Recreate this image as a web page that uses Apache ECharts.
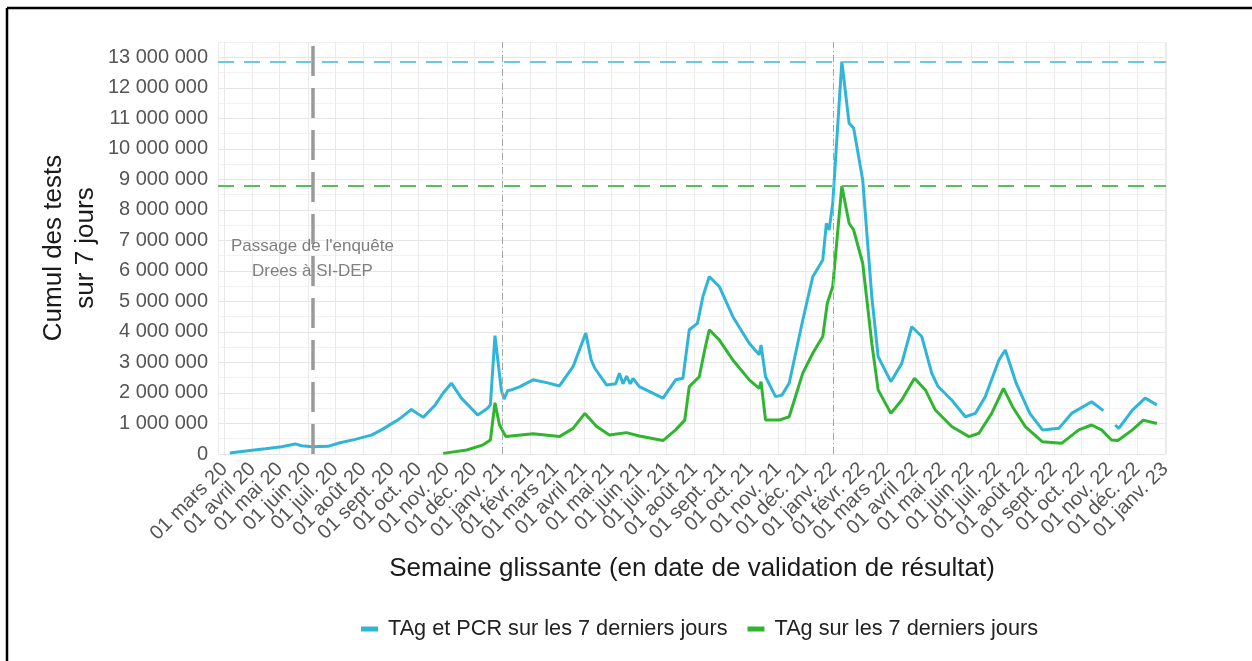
<!DOCTYPE html>
<html>
<head>
<meta charset="utf-8">
<script src="https://cdn.jsdelivr.net/npm/echarts@6/dist/echarts.min.js"></script>
<style>
html,body{margin:0;padding:0;background:#fff;}
#chart{width:1252px;height:661px;}
</style>
</head>
<body>
<div id="chart"></div>
<script>
// ---- Data ----
const allDates = ['2020-03-07','2020-03-27','2020-04-15','2020-05-03','2020-05-18','2020-05-25','2020-06-06','2020-06-23','2020-07-04','2020-07-23','2020-08-10','2020-08-21','2020-09-05','2020-09-12','2020-09-23','2020-10-06','2020-10-19','2020-10-28','2020-11-06','2020-11-17','2020-12-05','2020-12-16','2020-12-19','2020-12-24','2020-12-31','2021-01-03','2021-01-05','2021-01-07','2021-01-11','2021-01-20','2021-02-04','2021-02-20','2021-03-05','2021-03-20','2021-04-03','2021-04-09','2021-04-13','2021-04-26','2021-05-06','2021-05-10','2021-05-14','2021-05-18','2021-05-22','2021-05-25','2021-06-01','2021-06-27','2021-07-11','2021-07-19','2021-07-26','2021-08-04','2021-08-10','2021-08-17','2021-08-28','2021-09-12','2021-09-30','2021-10-11','2021-10-13','2021-10-18','2021-10-29','2021-11-05','2021-11-13','2021-11-28','2021-12-09','2021-12-20','2021-12-24','2021-12-27','2021-12-31','2022-01-10','2022-01-18','2022-01-23','2022-02-02','2022-02-12','2022-02-19','2022-03-05','2022-03-17','2022-03-28','2022-04-08','2022-04-19','2022-04-26','2022-05-11','2022-05-26','2022-06-06','2022-06-17','2022-07-02','2022-07-09','2022-07-21','2022-08-05','2022-08-19','2022-09-06','2022-09-20','2022-10-12','2022-10-25','2022-10-31','2022-11-07','2022-11-11','2022-11-26','2022-12-10','2022-12-23'];
const allValues = [30000,110000,170000,240000,330000,270000,240000,250000,350000,480000,620000,790000,1060000,1200000,1460000,1200000,1600000,2000000,2320000,1830000,1280000,1500000,1620000,3880000,2100000,1800000,1770000,2080000,2100000,2200000,2430000,2330000,2230000,2860000,3960000,3080000,2810000,2260000,2300000,2650000,2300000,2550000,2300000,2480000,2210000,1830000,2430000,2480000,4070000,4280000,5160000,5810000,5490000,4500000,3630000,3250000,3570000,2530000,1880000,1930000,2320000,4390000,5810000,6360000,7560000,7340000,8220000,12860000,10840000,10680000,8980000,5160000,3190000,2370000,2970000,4170000,3850000,2650000,2210000,1770000,1220000,1330000,1880000,3080000,3410000,2320000,1330000,790000,840000,1330000,1710000,1420000,null,950000,840000,1440000,1830000,1610000];

const tagDates = ['2020-10-28','2020-11-23','2020-12-11','2020-12-19','2020-12-24','2020-12-29','2021-01-05','2021-02-04','2021-03-05','2021-03-20','2021-04-02','2021-04-15','2021-04-29','2021-05-18','2021-06-01','2021-06-27','2021-07-11','2021-07-21','2021-07-26','2021-08-06','2021-08-12','2021-08-17','2021-08-28','2021-09-12','2021-09-30','2021-10-11','2021-10-13','2021-10-18','2021-11-02','2021-11-13','2021-11-28','2021-12-09','2021-12-20','2021-12-25','2021-12-31','2022-01-10','2022-01-18','2022-01-23','2022-02-02','2022-02-12','2022-02-19','2022-03-05','2022-03-17','2022-03-31','2022-04-12','2022-04-23','2022-05-11','2022-05-30','2022-06-10','2022-06-24','2022-07-07','2022-07-17','2022-07-31','2022-08-19','2022-09-09','2022-09-28','2022-10-12','2022-10-23','2022-11-03','2022-11-10','2022-11-26','2022-12-08','2022-12-23'];
const tagValues = [20000,130000,300000,460000,1680000,950000,570000,660000,570000,840000,1330000,900000,620000,700000,590000,440000,790000,1110000,2210000,2530000,3410000,4070000,3740000,3080000,2430000,2150000,2370000,1110000,1110000,1220000,2650000,3300000,3850000,4940000,5490000,8780000,7560000,7340000,6250000,3630000,2100000,1330000,1770000,2480000,2100000,1440000,900000,570000,680000,1330000,2150000,1550000,900000,400000,350000,790000,950000,790000,460000,440000,790000,1110000,1000000];

const seriesNames = ['TAg et PCR sur les 7 derniers jours', 'TAg sur les 7 derniers jours'];
const monthLabels = ['janv.','févr.','mars','avril','mai','juin','juil.','août','sept.','oct.','nov.','déc.'];
const xMin = '2020-02-23';
const xMax = '2023-01-02';
const yMax = 13500000;
const yStep = 500000;
const annotationDate = '2020-06-06';
const annotationY = 6400000;
const annotationText = "Passage de l'enquête\nDrees à SI-DEP";
const yearLines = ['2021-01-01', '2022-01-01'];
const xTitle = 'Semaine glissante (en date de validation de résultat)';
const yTitle = 'Cumul des tests\nsur 7 jours';

// ---- Chart ----
const FONT = 'Liberation Sans, Arial, Helvetica, sans-serif';
const CYAN = '#2fb5d8';
const GREEN = '#2fb52f';

function fmtNum(v){
  return String(v).replace(/\B(?=(\d{3})+(?!\d))/g, ' ');
}

const chart = echarts.init(document.getElementById('chart'), null, {renderer:'canvas'});
const option = {
  backgroundColor: '#ffffff',
  animation: false,
  textStyle: {fontFamily: FONT},
  grid: {left: 218, right: 86, top: 42, bottom: 207, containLabel: false},
  legend: {
    data: seriesNames,
    left: 356, top: 613,
    icon: 'rect', itemWidth: 17, itemHeight: 5, itemGap: 20,
    textStyle: {fontSize: 21.7, color: '#222', fontFamily: FONT, padding: [0,0,0,5]}
  },
  xAxis: {
    type: 'time',
    min: xMin, max: xMax,
    minInterval: 28 * 86400000,
    maxInterval: 31 * 86400000,
    splitNumber: 35,
    axisLine: {show: false},
    axisTick: {show: false},
    splitLine: {show: true, lineStyle: {color: '#ebebeb', width: 1}},
    axisLabel: {
      rotate: 45, interval: 0, margin: 12,
      color: '#555', fontSize: 20, fontFamily: FONT,
      showMinLabel: true, showMaxLabel: true, hideOverlap: false,
      formatter: function(value){
        const d = new Date(value);
        if (d.getDate() !== 1) return '';
        return '01 ' + monthLabels[d.getMonth()] + ' ' + String(d.getFullYear()).slice(2);
      }
    },
    name: xTitle, nameLocation: 'middle', nameGap: 102, nameMoveOverlap: false,
    nameTextStyle: {fontSize: 26, color: '#1a1a1a', fontFamily: FONT}
  },
  yAxis: {
    type: 'value', min: 0, max: yMax, interval: yStep,
    axisLine: {show: false}, axisTick: {show: false},
    splitLine: {show: true, lineStyle: {color: ['#e6e6e6', '#f1f1f1'], width: 1}},
    axisLabel: {
      color: '#555', fontSize: 20, margin: 10, fontFamily: FONT,
      formatter: function(v){ return v % 1000000 === 0 ? fmtNum(v) : ''; }
    },
    name: yTitle, nameLocation: 'middle', nameGap: 116, nameRotate: 90, nameMoveOverlap: false,
    nameTextStyle: {fontSize: 26, color: '#1a1a1a', lineHeight: 32, fontFamily: FONT}
  },
  series: [
    {
      name: 'repères', type: 'line', data: [], silent: true,
      markLine: {
        silent: true, symbol: ['none','none'], label: {show: false},
        data: [
          {xAxis: annotationDate, lineStyle: {color: '#9a9a9a', width: 3.5, type: [30, 12]}},
          {xAxis: yearLines[0], lineStyle: {color: '#a8a8a8', width: 1, type: [7, 3, 1, 3]}},
          {xAxis: yearLines[1], lineStyle: {color: '#a8a8a8', width: 1, type: [7, 3, 1, 3]}}
        ]
      },
      markPoint: {
        silent: true,
        data: [{coord: [annotationDate, annotationY], symbol: 'circle', symbolSize: 0,
          label: {show: true, position: 'inside', formatter: annotationText,
            color: '#7f7f7f', fontSize: 17, lineHeight: 25, fontFamily: FONT, align: 'center'}}]
      }
    },
    {
      name: seriesNames[0], type: 'line', showSymbol: false, connectNulls: false,
      data: allDates.map((d, i) => [d, allValues[i]]),
      lineStyle: {color: CYAN, width: 3}, itemStyle: {color: CYAN}, z: 3,
      markLine: {
        silent: true, symbol: ['none','none'], label: {show: false},
        lineStyle: {color: '#6cc8dc', width: 2, type: [16, 10]},
        data: [{type: 'max'}]
      }
    },
    {
      name: seriesNames[1], type: 'line', showSymbol: false,
      data: tagDates.map((d, i) => [d, tagValues[i]]),
      lineStyle: {color: GREEN, width: 3}, itemStyle: {color: GREEN}, z: 4,
      markLine: {
        silent: true, symbol: ['none','none'], label: {show: false},
        lineStyle: {color: '#5cbb5c', width: 2, type: [16, 10]},
        data: [{type: 'max'}]
      }
    }
  ],
  graphic: [
    {type: 'line', shape: {x1: 7, y1: 8, x2: 1252, y2: 8}, style: {stroke: '#000', lineWidth: 2.5}, silent: true},
    {type: 'line', shape: {x1: 7, y1: 8, x2: 7, y2: 661}, style: {stroke: '#000', lineWidth: 2.5}, silent: true}
  ]
};
chart.setOption(option);
</script>
</body>
</html>
